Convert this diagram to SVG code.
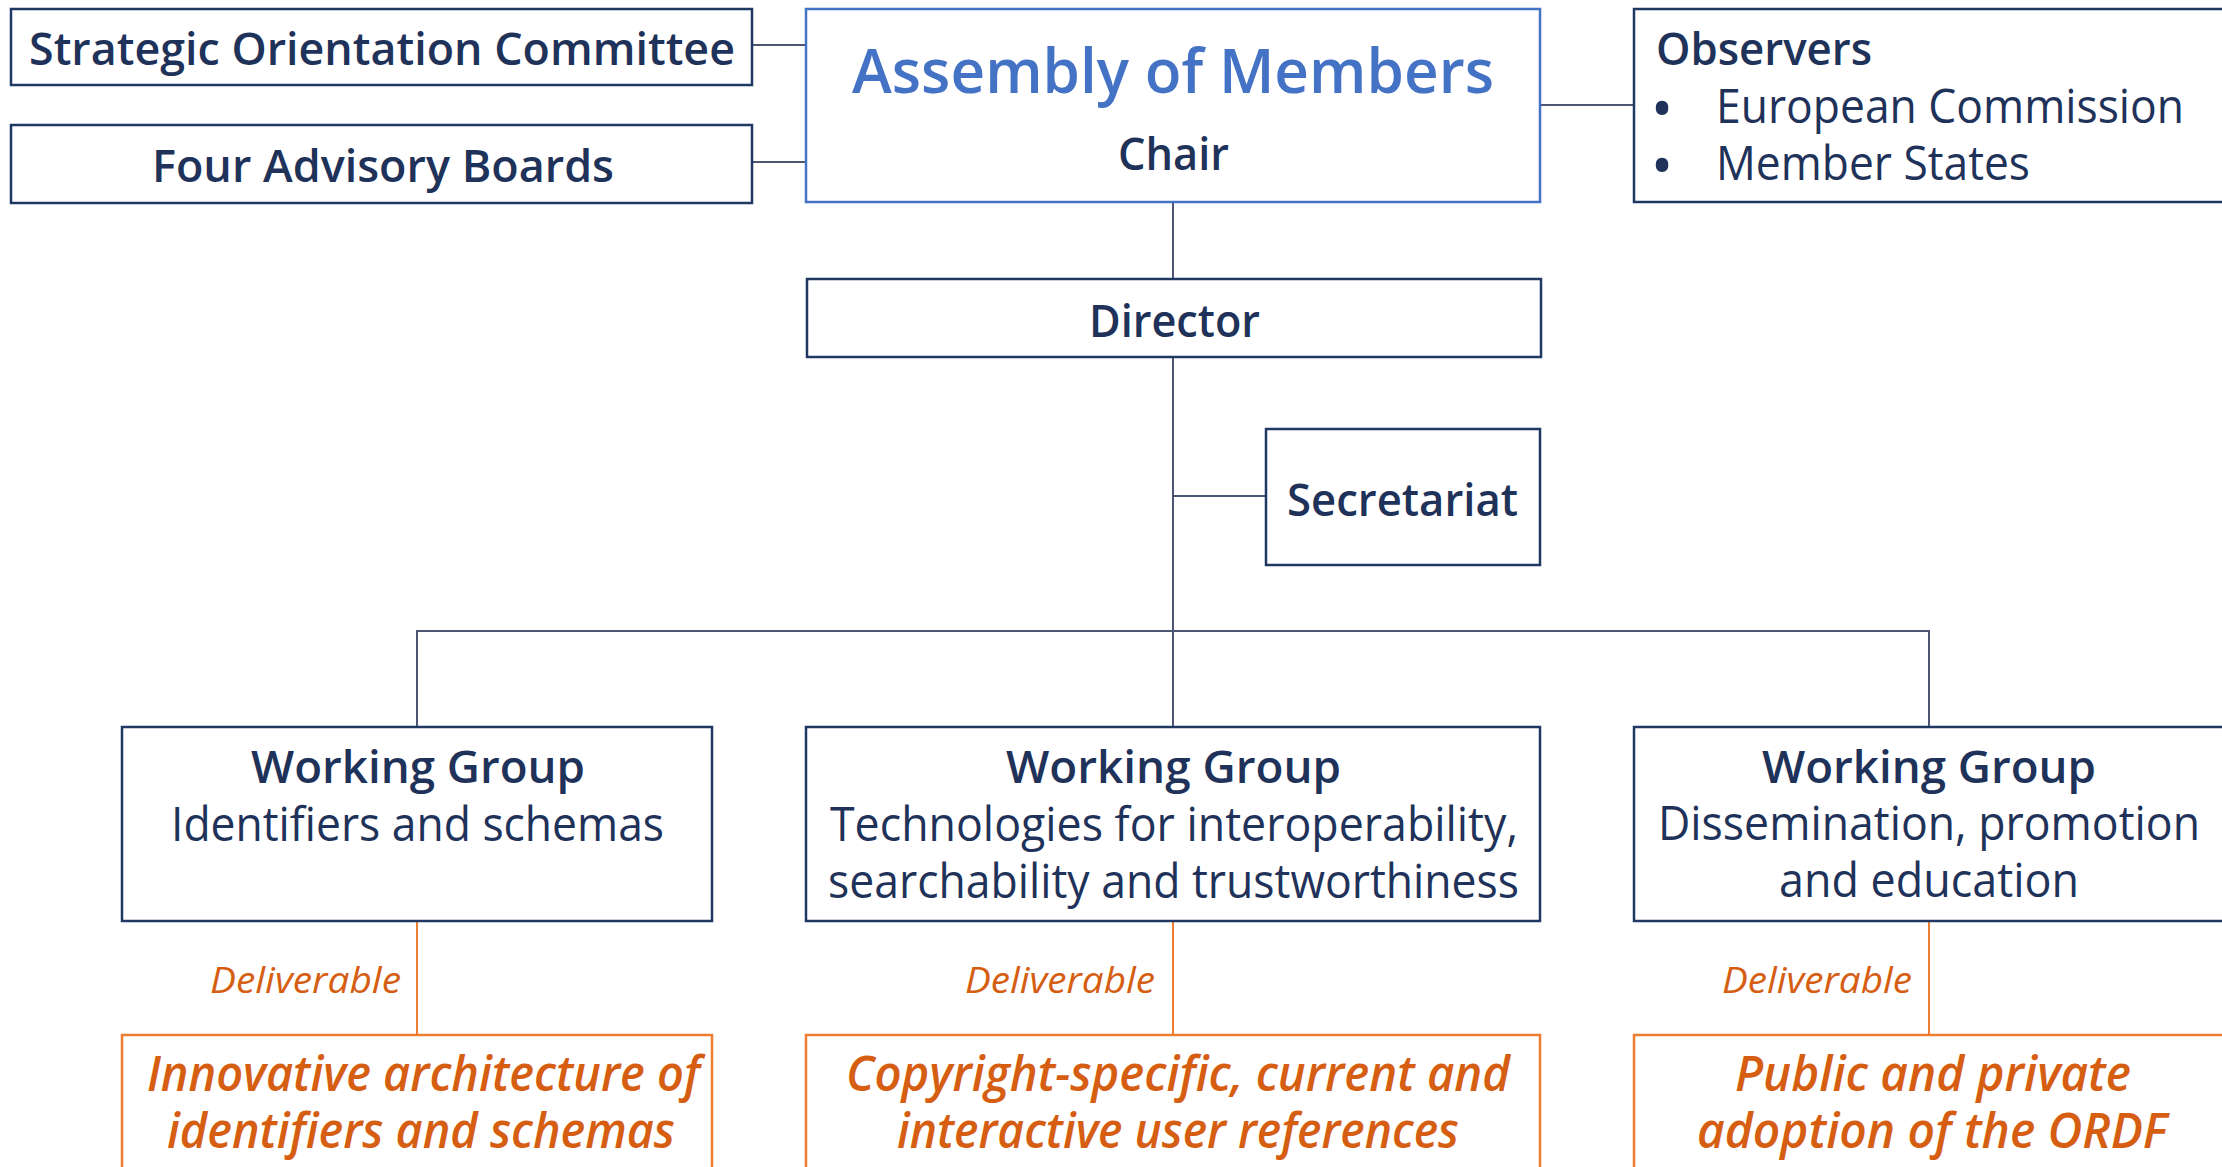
<svg xmlns="http://www.w3.org/2000/svg" width="2222" height="1167" viewBox="0 0 2222 1167">
<style>
.box{fill:#fff;stroke:#1f3864;stroke-width:2.5}
.abox{fill:#fff;stroke:#4472c4;stroke-width:2.5}
.dbox{fill:#fff;stroke:#ed7d31;stroke-width:2.5}
.ln{stroke:#4a5673;stroke-width:2;fill:none}
.oln{stroke:#ed7d31;stroke-width:2;fill:none}
text{font-family:"Open Sans","Noto Sans","DejaVu Sans",sans-serif;fill:#1f3259}
.b{font-weight:600;font-size:46px}
.r{font-weight:400;font-size:47px}
.bu{font-weight:400;font-size:60px}
.t{font-weight:600;font-size:62px;fill:#4472c4}
.dl{font-style:italic;font-weight:400;font-size:36px;fill:#d55e12}
.dt{font-style:italic;font-weight:600;font-size:48px;fill:#d55e12}
</style>
<rect width="2222" height="1167" fill="#fff"/>
<g id="connectors">
<line class="ln" x1="752" y1="45" x2="806" y2="45"/>
<line class="ln" x1="752" y1="162" x2="806" y2="162"/>
<line class="ln" x1="1540" y1="105" x2="1634" y2="105"/>
<line class="ln" x1="1173" y1="202" x2="1173" y2="279"/>
<line class="ln" x1="1173" y1="357" x2="1173" y2="727"/>
<line class="ln" x1="1173" y1="496" x2="1266" y2="496"/>
<polyline class="ln" points="417,727 417,631 1929,631 1929,727"/>
<line class="oln" x1="417" y1="921" x2="417" y2="1035"/>
<line class="oln" x1="1173" y1="921" x2="1173" y2="1035"/>
<line class="oln" x1="1929" y1="921" x2="1929" y2="1035"/>
<text class="dl" x="401" y="993" text-anchor="end" textLength="191" lengthAdjust="spacingAndGlyphs">Deliverable</text>
<text class="dl" x="1155" y="993" text-anchor="end" textLength="190" lengthAdjust="spacingAndGlyphs">Deliverable</text>
<text class="dl" x="1912" y="993" text-anchor="end" textLength="190" lengthAdjust="spacingAndGlyphs">Deliverable</text>
</g>
<g id="strategic">
<rect class="box" x="11" y="9" width="741" height="76"/>
<text class="b" x="29" y="65" textLength="706" lengthAdjust="spacingAndGlyphs">Strategic Orientation Committee</text>
</g>
<g id="advisory">
<rect class="box" x="11" y="125" width="741" height="78"/>
<text class="b" x="152" y="182" textLength="462" lengthAdjust="spacingAndGlyphs">Four Advisory Boards</text>
</g>
<g id="assembly">
<rect class="abox" x="806" y="9" width="734" height="193"/>
<text class="t" x="852" y="93" textLength="642" lengthAdjust="spacingAndGlyphs">Assembly of Members</text>
<text class="b" x="1118" y="170" textLength="111" lengthAdjust="spacingAndGlyphs">Chair</text>
</g>
<g id="observers">
<rect class="box" x="1634" y="9" width="600" height="193"/>
<text class="b" x="1656" y="65" textLength="216" lengthAdjust="spacingAndGlyphs">Observers</text>
<text class="bu" x="1662" y="130" text-anchor="middle">•</text>
<text class="r" x="1716" y="123" textLength="468" lengthAdjust="spacingAndGlyphs">European Commission</text>
<text class="bu" x="1662" y="187" text-anchor="middle">•</text>
<text class="r" x="1716" y="180" textLength="314" lengthAdjust="spacingAndGlyphs">Member States</text>
</g>
<g id="director">
<rect class="box" x="807" y="279" width="734" height="78"/>
<text class="b" x="1089" y="337" textLength="171" lengthAdjust="spacingAndGlyphs">Director</text>
</g>
<g id="secretariat">
<rect class="box" x="1266" y="429" width="274" height="136"/>
<text class="b" x="1287" y="516" textLength="231" lengthAdjust="spacingAndGlyphs">Secretariat</text>
</g>
<g id="wg1">
<rect class="box" x="122" y="727" width="590" height="194"/>
<text class="b" x="251" y="783" textLength="334" lengthAdjust="spacingAndGlyphs">Working Group</text>
<text class="r" x="171" y="841" textLength="493" lengthAdjust="spacingAndGlyphs">Identifiers and schemas</text>
</g>
<g id="wg2">
<rect class="box" x="806" y="727" width="734" height="194"/>
<text class="b" x="1006" y="783" textLength="335" lengthAdjust="spacingAndGlyphs">Working Group</text>
<text class="r" x="830" y="841" textLength="688" lengthAdjust="spacingAndGlyphs">Technologies for interoperability,</text>
<text class="r" x="828" y="898" textLength="691" lengthAdjust="spacingAndGlyphs">searchability and trustworthiness</text>
</g>
<g id="wg3">
<rect class="box" x="1634" y="727" width="600" height="194"/>
<text class="b" x="1762" y="783" textLength="334" lengthAdjust="spacingAndGlyphs">Working Group</text>
<text class="r" x="1658" y="840" textLength="542" lengthAdjust="spacingAndGlyphs">Dissemination, promotion</text>
<text class="r" x="1779" y="897" textLength="300" lengthAdjust="spacingAndGlyphs">and education</text>
</g>
<g id="del1">
<rect class="dbox" x="122" y="1035" width="590" height="200"/>
<text class="dt" x="147" y="1091" textLength="553" lengthAdjust="spacingAndGlyphs">Innovative architecture of</text>
<text class="dt" x="167" y="1148" textLength="508" lengthAdjust="spacingAndGlyphs">identifiers and schemas</text>
</g>
<g id="del2">
<rect class="dbox" x="806" y="1035" width="734" height="200"/>
<text class="dt" x="846" y="1091" textLength="664" lengthAdjust="spacingAndGlyphs">Copyright-specific, current and</text>
<text class="dt" x="897" y="1148" textLength="562" lengthAdjust="spacingAndGlyphs">interactive user references</text>
</g>
<g id="del3">
<rect class="dbox" x="1634" y="1035" width="600" height="200"/>
<text class="dt" x="1735" y="1091" textLength="396" lengthAdjust="spacingAndGlyphs">Public and private</text>
<text class="dt" x="1697" y="1148" textLength="470" lengthAdjust="spacingAndGlyphs">adoption of the ORDF</text>
</g>
</svg>
